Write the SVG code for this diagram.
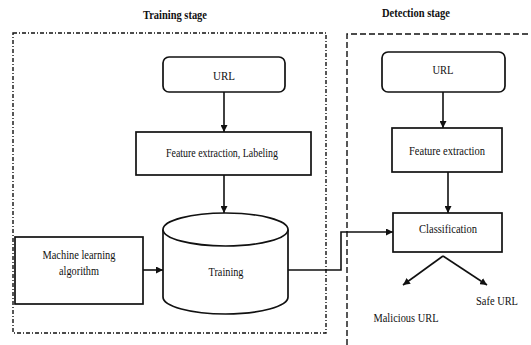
<svg xmlns="http://www.w3.org/2000/svg" width="531" height="345" viewBox="0 0 531 345">
<style>
.t{font-family:"Liberation Serif","Times New Roman",serif;font-size:13.5px;fill:#111;text-anchor:middle}
.h{font-weight:bold;font-size:13px}
.b{fill:#fff;stroke:#111;stroke-width:1.7}
.c{fill:none;stroke:#111;stroke-width:1.6}
.frame1{fill:none;stroke:#111;stroke-width:1.4;stroke-dasharray:4 2 1 2}
.frame2{fill:none;stroke:#111;stroke-width:1.4;stroke-dasharray:6 3}
</style>
<defs>
<marker id="ah" viewBox="0 0 10 10" refX="10" refY="5" markerWidth="7" markerHeight="7" markerUnits="userSpaceOnUse" orient="auto">
<path d="M0,0 L10,5 L0,10 z" fill="#111"/>
</marker>
</defs>
<rect width="531" height="345" fill="#fff"/>
<g id="training-stage">
<rect class="frame1" x="13" y="33" width="313" height="300"/>
<text class="t h" x="175" y="19" textLength="64" lengthAdjust="spacingAndGlyphs">Training stage</text>
</g>
<g id="detection-stage">
<path class="frame2" d="M347,345 L347,34 L531,34"/>
<text class="t h" x="416" y="17" textLength="68" lengthAdjust="spacingAndGlyphs">Detection stage</text>
</g>
<g id="connectors">
<line class="c" x1="224" y1="92" x2="224" y2="132" marker-end="url(#ah)"/>
<line class="c" x1="224" y1="175" x2="224" y2="213" marker-end="url(#ah)"/>
<line class="c" x1="143" y1="270" x2="163" y2="270" marker-end="url(#ah)"/>
<polyline class="c" points="288,270 341,270 341,232 393,232" marker-end="url(#ah)"/>
<line class="c" x1="443" y1="92" x2="443" y2="128" marker-end="url(#ah)"/>
<line class="c" x1="448" y1="172" x2="448" y2="213" marker-end="url(#ah)"/>
<line class="c" x1="443" y1="256" x2="403" y2="285" marker-end="url(#ah)"/>
<line class="c" x1="443" y1="256" x2="487" y2="285" marker-end="url(#ah)"/>
</g>
<g id="url-train">
<rect class="b" x="163" y="57" width="122" height="35" rx="6"/>
<text class="t" x="224" y="80" textLength="22" lengthAdjust="spacingAndGlyphs">URL</text>
</g>
<g id="feature-labeling">
<rect class="b" x="136" y="132" width="175" height="43"/>
<text class="t" x="222" y="157" textLength="112" lengthAdjust="spacingAndGlyphs">Feature extraction, Labeling</text>
</g>
<g id="ml-algorithm">
<rect class="b" x="15" y="237" width="128" height="67"/>
<text class="t" x="79" y="259" textLength="73" lengthAdjust="spacingAndGlyphs">Machine learning</text>
<text class="t" x="79" y="275" textLength="40" lengthAdjust="spacingAndGlyphs">algorithm</text>
</g>
<g id="training">
<path class="b" d="M163,229.5 L163,297 A62.5,17 0 0 0 288,297 L288,229.5"/>
<ellipse class="b" cx="225.5" cy="229.5" rx="62.5" ry="16.5"/>
<text class="t" x="226" y="276" textLength="35" lengthAdjust="spacingAndGlyphs">Training</text>
</g>
<g id="url-detect">
<rect class="b" x="382" y="52" width="123" height="40" rx="6"/>
<text class="t" x="443" y="74" textLength="21" lengthAdjust="spacingAndGlyphs">URL</text>
</g>
<g id="feature-detect">
<rect class="b" x="392" y="128" width="110" height="44"/>
<text class="t" x="447" y="155" textLength="76" lengthAdjust="spacingAndGlyphs">Feature extraction</text>
</g>
<g id="classification">
<rect class="b" x="393" y="213" width="109" height="39"/>
<text class="t" x="448" y="233" textLength="58" lengthAdjust="spacingAndGlyphs">Classification</text>
</g>
<g id="malicious">
<text class="t" x="406" y="322" textLength="65" lengthAdjust="spacingAndGlyphs">Malicious URL</text>
</g>
<g id="safe">
<text class="t" x="497" y="305" textLength="42" lengthAdjust="spacingAndGlyphs">Safe URL</text>
</g>
</svg>
